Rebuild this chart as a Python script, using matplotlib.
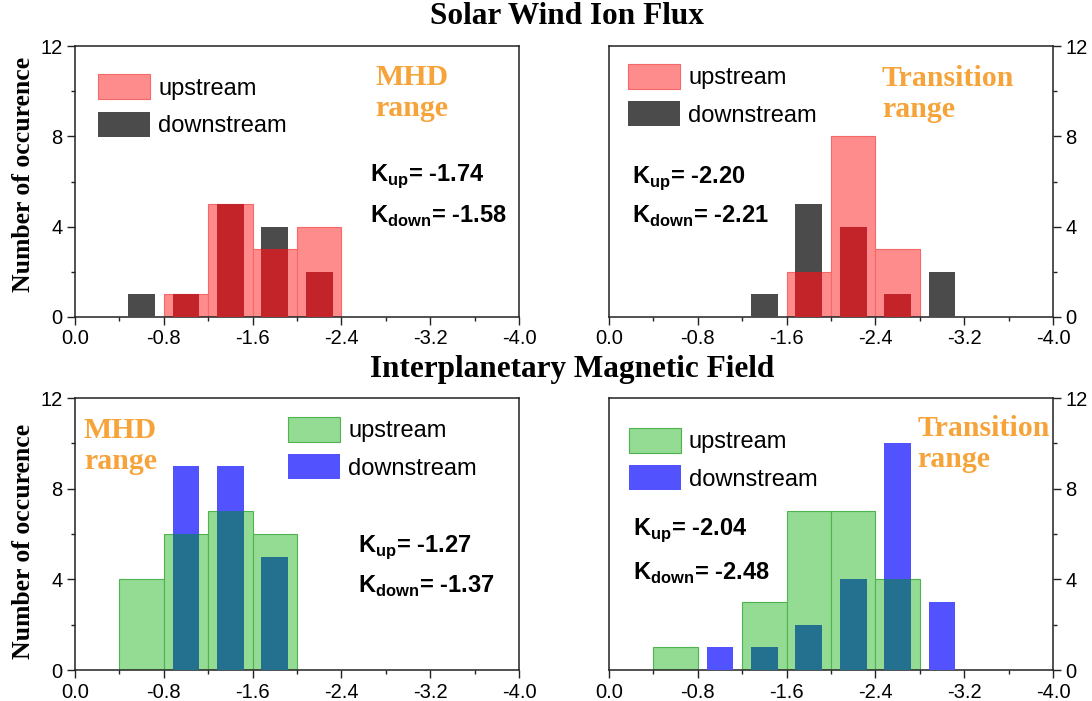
import matplotlib
matplotlib.use("Agg")
import matplotlib.pyplot as plt
from matplotlib.ticker import MultipleLocator, FixedLocator
import numpy as np

plt.rcParams['font.family'] = ['Liberation Sans', 'DejaVu Sans']
plt.rcParams['mathtext.fontset'] = 'custom'
plt.rcParams['mathtext.rm'] = 'Liberation Sans'
plt.rcParams['mathtext.bf'] = 'Liberation Sans:bold'

# bin centres, bins are 0.4 wide from 0.0 to -4.0
bin_centers = [-0.2, -0.6, -1.0, -1.4, -1.8, -2.2, -2.6, -3.0, -3.4, -3.8]

swi_mhd_up = [0, 0, 1, 5, 3, 4, 0, 0, 0, 0]
swi_mhd_down = [0, 1, 1, 5, 4, 2, 0, 0, 0, 0]
swi_tr_up = [0, 0, 0, 0, 2, 8, 3, 0, 0, 0]
swi_tr_down = [0, 0, 0, 1, 5, 4, 1, 2, 0, 0]
imf_mhd_up = [0, 4, 6, 7, 6, 0, 0, 0, 0, 0]
imf_mhd_down = [0, 0, 9, 9, 5, 0, 0, 0, 0, 0]
imf_tr_up = [0, 1, 0, 3, 7, 7, 4, 0, 0, 0]
imf_tr_down = [0, 0, 1, 1, 2, 4, 10, 3, 0, 0]

k_values = {
    "swi_mhd": ("-1.74", "-1.58"),
    "swi_tr": ("-2.20", "-2.21"),
    "imf_mhd": ("-1.27", "-1.37"),
    "imf_tr": ("-2.04", "-2.48"),
}

red_style = dict(up="#FF8C8C", up_edge="#F46868", down="#4B4B4B", both="#C3242A")
green_style = dict(up="#94DB94", up_edge="#4FB44F", down="#5252FF", both="#23708F")

ORANGE = "#F6A33A"
SERIF = "Liberation Serif"


def draw_panel(ax, up, down, style, right_axis):
    x = np.array(bin_centers)
    up = np.array(up)
    down = np.array(down)
    m = up > 0
    ax.bar(x[m], up[m], width=0.4, color=style["up"], edgecolor=style["up_edge"],
           linewidth=0.8, zorder=2, label="upstream")
    m = down > 0
    ax.bar(x[m], down[m], width=0.24, color=style["down"], linewidth=0,
           zorder=3, label="downstream")
    # where both series overlap the colours mix into a darker tone
    both = np.minimum(up, down)
    m = both > 0
    ax.bar(x[m], both[m], width=0.24, color=style["both"], linewidth=0, zorder=4)

    ax.set_xlim(0, -4.0)
    ax.set_ylim(0, 12)
    ax.xaxis.set_major_locator(FixedLocator([0, -0.8, -1.6, -2.4, -3.2, -4.0]))
    ax.xaxis.set_minor_locator(FixedLocator([-0.4, -1.2, -2.0, -2.8, -3.6]))
    ax.set_xticklabels(["0.0", "-0.8", "-1.6", "-2.4", "-3.2", "-4.0"])
    ax.yaxis.set_major_locator(MultipleLocator(4))
    ax.yaxis.set_minor_locator(MultipleLocator(2))
    ax.tick_params(which="both", direction="out", labelsize=14.5, color="#222222",
                   width=1.0, pad=3)
    ax.tick_params(which="major", length=6)
    ax.tick_params(which="minor", length=3)
    if right_axis:
        ax.yaxis.tick_right()
    for s in ax.spines.values():
        s.set_linewidth(1.1)
        s.set_color("#222222")


fig = plt.figure(figsize=(10.92, 7.01), dpi=100)

W, H = 1092, 701


def make_axes(left, right, top, bottom):
    return fig.add_axes([left / W, 1 - bottom / H, (right - left) / W, (bottom - top) / H])


ax_tl = make_axes(75, 519, 46, 317)
ax_tr = make_axes(609, 1053, 46, 317)
ax_bl = make_axes(75, 519, 398, 670)
ax_br = make_axes(609, 1053, 398, 670)

draw_panel(ax_tl, swi_mhd_up, swi_mhd_down, red_style, False)
draw_panel(ax_tr, swi_tr_up, swi_tr_down, red_style, True)
draw_panel(ax_bl, imf_mhd_up, imf_mhd_down, green_style, False)
draw_panel(ax_br, imf_tr_up, imf_tr_down, green_style, True)

leg_pos = {ax_tl: (0.052, 0.895), ax_tr: (0.043, 0.934),
           ax_bl: (0.480, 0.930), ax_br: (0.045, 0.890)}
for ax, pos in leg_pos.items():
    ax.legend(loc="upper left", bbox_to_anchor=pos, frameon=False, fontsize=17,
              borderpad=0, borderaxespad=0, handlelength=2.2, handleheight=1.24,
              labelspacing=0.51, handletextpad=0.34)

# regime labels
range_text = [(ax_tl, "MHD\nrange", 0.676, 0.935), (ax_tr, "Transition\nrange", 0.615, 0.930),
              (ax_bl, "MHD\nrange", 0.020, 0.930), (ax_br, "Transition\nrange", 0.694, 0.9375)]
for ax, txt, x, y in range_text:
    ax.text(x, y, txt, transform=ax.transAxes, ha="left", va="top", color=ORANGE,
            fontsize=21.5, fontweight="bold", family=SERIF, linespacing=1.2)

k_pos = [(ax_tl, "swi_mhd", 0.664, 0.504, 0.349), (ax_tr, "swi_tr", 0.052, 0.496, 0.346),
         (ax_bl, "imf_mhd", 0.637, 0.434, 0.283), (ax_br, "imf_tr", 0.055, 0.496, 0.331)]
for ax, key, x, y1, y2 in k_pos:
    kup, kdown = k_values[key]
    ax.text(x, y1, r"$\mathbf{K}_{\mathbf{up}}$= " + kup, transform=ax.transAxes,
            fontsize=17, fontweight="bold", va="baseline")
    ax.text(x, y2, r"$\mathbf{K}_{\mathbf{down}}$= " + kdown, transform=ax.transAxes,
            fontsize=17, fontweight="bold", va="baseline")

for ax, ly in ((ax_tl, 0.526), (ax_bl, 0.471)):
    ax.set_ylabel("Number of occurence", family=SERIF, fontweight="bold", fontsize=18.5)
    ax.yaxis.set_label_coords(-0.09, ly)

fig.text(567 / W, 1 - 17 / H, "Solar Wind Ion Flux", ha="center", va="center",
         family=SERIF, fontweight="bold", fontsize=22.5)
fig.text(572 / W, 1 - 370 / H, "Interplanetary Magnetic Field", ha="center", va="center",
         family=SERIF, fontweight="bold", fontsize=22.5)

fig.savefig("out.png", dpi=100)
